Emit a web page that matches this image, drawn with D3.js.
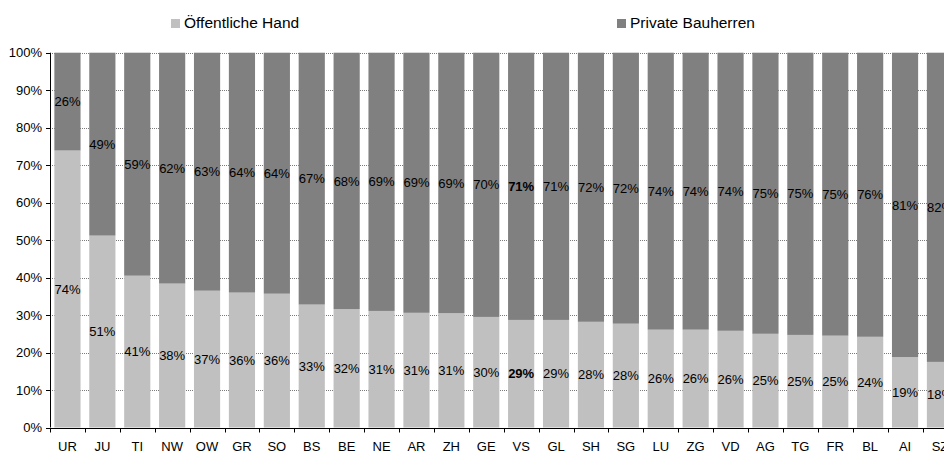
<!DOCTYPE html>
<html>
<head>
<meta charset="utf-8">
<script src="https://cdn.jsdelivr.net/npm/d3@7"></script>
<style>
  html, body { margin: 0; padding: 0; background: #fff; }
  svg { display: block; font-family: "Liberation Sans", Arial, sans-serif; }
</style>
</head>
<body>
<svg id="chart" width="944" height="451"></svg>
<script>
const categories = ["UR","JU","TI","NW","OW","GR","SO","BS","BE","NE","AR","ZH","GE","VS","GL","SH","SG","LU","ZG","VD","AG","TG","FR","BL","AI","SZ"];
// share of public clients (Öffentliche Hand), fraction of 100%
const publicShare = [73.9,51.2,40.5,38.4,36.5,36.0,35.7,32.8,31.6,31.1,30.6,30.5,29.5,28.7,28.7,28.2,27.7,26.1,26.1,25.8,25.0,24.7,24.5,24.2,18.8,17.5];
const publicLabels = [74,51,41,38,37,36,36,33,32,31,31,31,30,29,29,28,28,26,26,26,25,25,25,24,19,18];
const privateLabels = [26,49,59,62,63,64,64,67,68,69,69,69,70,71,71,72,72,74,74,74,75,75,75,76,81,82];
const yTicks = [0,10,20,30,40,50,60,70,80,90,100];
const seriesNames = ["Öffentliche Hand","Private Bauherren"];
const colors = ["#c0c0c0","#808080"];
const boldCategory = "VS";

const svg = d3.select("#chart");
const x = d3.scaleBand().domain(categories).range([50, 957.4]).paddingInner(0.25).paddingOuter(0.125);
const y = d3.scaleLinear().domain([0, 100]).range([427.5, 52.7]);

// gridlines
svg.append("g").selectAll("line").data(yTicks.filter(d => d > 0)).join("line")
  .attr("x1", 50).attr("x2", 944)
  .attr("y1", d => Math.round(y(d)) + 0.5).attr("y2", d => Math.round(y(d)) + 0.5)
  .attr("stroke", "#7a7a7a").attr("stroke-width", 1).attr("stroke-dasharray", "1,1");

const stackData = categories.map((c, i) => ({cat: c, pub: publicShare[i], priv: 100 - publicShare[i], pl: publicLabels[i], vl: privateLabels[i]}));

// bars
const bars = svg.append("g");
bars.selectAll("rect.pub").data(stackData).join("rect")
  .attr("x", d => x(d.cat)).attr("width", x.bandwidth())
  .attr("y", d => y(d.pub)).attr("height", d => y(0) - y(d.pub))
  .attr("fill", colors[0]);
bars.selectAll("rect.priv").data(stackData).join("rect")
  .attr("x", d => x(d.cat)).attr("width", x.bandwidth())
  .attr("y", y(100)).attr("height", d => y(d.pub) - y(100))
  .attr("fill", colors[1]);

// labels
const lab = svg.append("g").attr("font-size", 13).attr("fill", "#000").attr("text-anchor", "middle");
lab.selectAll("text.pub").data(stackData).join("text")
  .attr("x", d => x(d.cat) + x.bandwidth() / 2)
  .attr("y", d => (y(0) + y(d.pub)) / 2).attr("dy", "0.36em")
  .attr("font-weight", d => d.cat === boldCategory ? "bold" : null)
  .text(d => d.pl + "%");
lab.selectAll("text.priv").data(stackData).join("text")
  .attr("x", d => x(d.cat) + x.bandwidth() / 2)
  .attr("y", d => (y(100) + y(d.pub)) / 2).attr("dy", "0.36em")
  .attr("font-weight", d => d.cat === boldCategory ? "bold" : null)
  .text(d => d.vl + "%");

// y axis
const yAxis = svg.append("g");
yAxis.append("line").attr("x1", 50.5).attr("x2", 50.5).attr("y1", y(100)).attr("y2", y(0)).attr("stroke", "#000");
yAxis.selectAll("line.t").data(yTicks).join("line")
  .attr("x1", 46).attr("x2", 50.5)
  .attr("y1", d => Math.round(y(d)) + 0.5).attr("y2", d => Math.round(y(d)) + 0.5)
  .attr("stroke", "#000");
yAxis.selectAll("text").data(yTicks).join("text")
  .attr("x", 42).attr("y", d => y(d)).attr("dy", "0.36em")
  .attr("text-anchor", "end").attr("font-size", 13).attr("fill", "#000")
  .text(d => d + "%");

// x axis
const xAxis = svg.append("g");
xAxis.append("line").attr("x1", 50).attr("x2", 944).attr("y1", Math.round(y(0)) + 0.5).attr("y2", Math.round(y(0)) + 0.5).attr("stroke", "#000");
const bounds = categories.map(c => x(c) - x.step() * x.paddingInner() / 2).concat([x(categories[categories.length - 1]) + x.bandwidth() + x.step() * x.paddingInner() / 2]);
xAxis.selectAll("line.t").data(bounds).join("line")
  .attr("x1", d => Math.round(d) + 0.5).attr("x2", d => Math.round(d) + 0.5)
  .attr("y1", Math.round(y(0))).attr("y2", Math.round(y(0)) + 4.5)
  .attr("stroke", "#000");
xAxis.selectAll("text").data(categories).join("text")
  .attr("x", d => x(d) + x.bandwidth() / 2).attr("y", 450.5)
  .attr("text-anchor", "middle").attr("font-size", 13).attr("fill", "#000")
  .text(d => d);

// legend
const legendX = [171, 617];
const leg = svg.append("g");
seriesNames.forEach((name, i) => {
  leg.append("rect").attr("x", legendX[i]).attr("y", 19).attr("width", 9).attr("height", 9).attr("fill", colors[i]);
  leg.append("text").attr("x", legendX[i] + 13).attr("y", 27.8).attr("font-size", 15.5).attr("fill", "#000").text(name);
});
</script>
</body>
</html>
